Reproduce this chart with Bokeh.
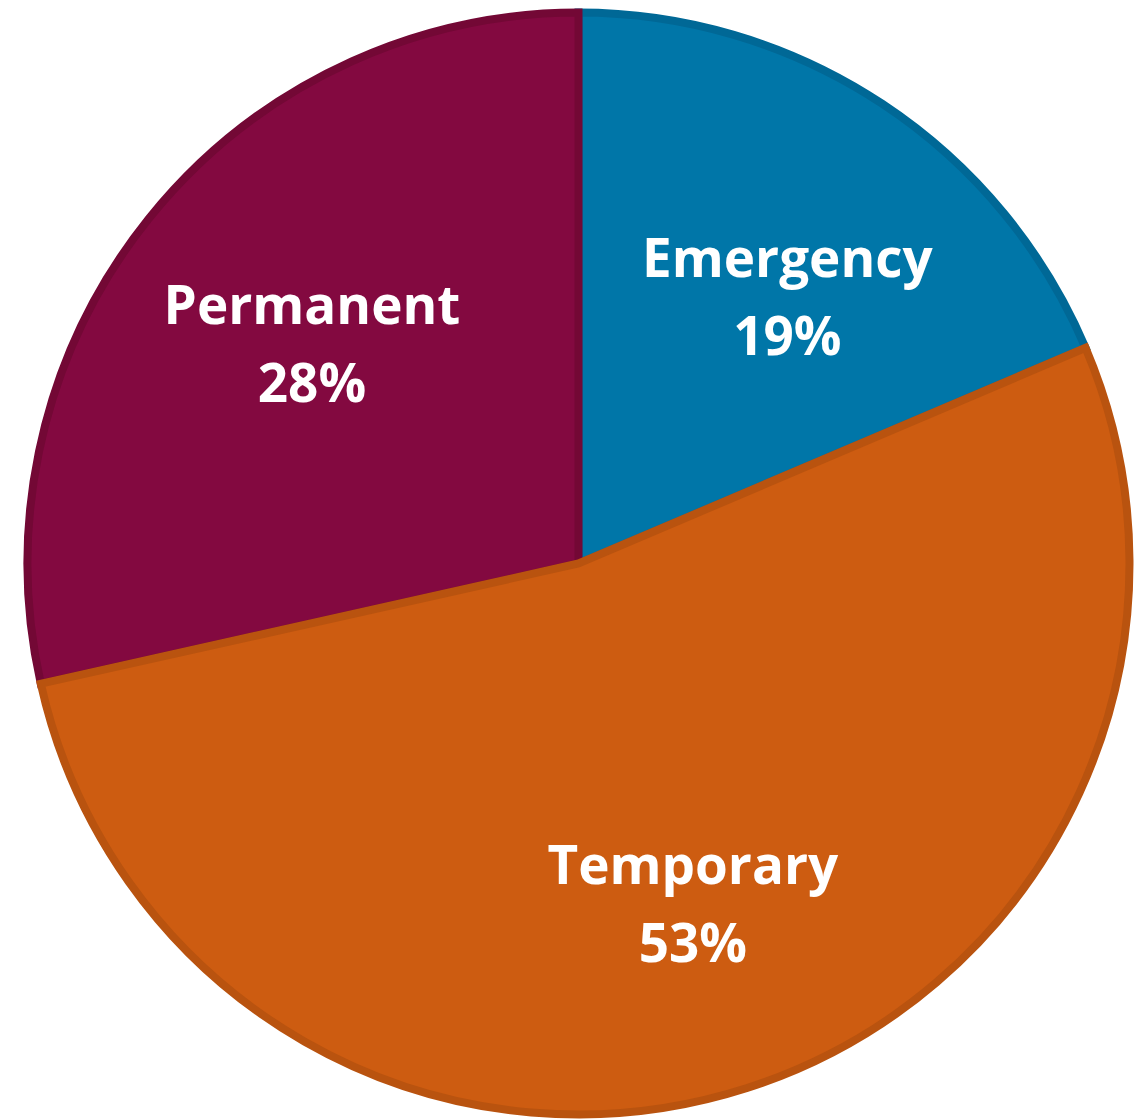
import numpy as np
from bokeh.plotting import figure
from bokeh.models import ColumnDataSource, Range1d
from bokeh.core.properties import value
from bokeh.embed import file_html
from bokeh.resources import INLINE

# Data (clockwise from 12 o'clock)
categories = ["Emergency", "Temporary", "Permanent"]
shares = [18.6, 52.9, 28.5]
pct_labels = ["19%", "53%", "28%"]
fill_colors = ["#0076A8", "#CD5C11", "#830940"]
line_colors = ["#006896", "#B9530F", "#730835"]

# layout / style (screen px)
label_nudge_x = [19, 9, 2]
label_nudge_y = [-21, -13, 4]
draw_order = [0, 2, 1]  # draw Temporary last so its border sits on top

W, H = 1140, 1120
cx, cy, R = 578, H - 563, 551

vals = np.array(shares, dtype=float)
frac = vals / vals.sum()
cum = np.concatenate([[0], np.cumsum(frac)])
start = np.pi / 2 - cum[:-1] * 2 * np.pi
end = np.pi / 2 - cum[1:] * 2 * np.pi
mid = (start + end) / 2

lab_r = 0.62 * (R + 4)
lx = cx + lab_r * np.cos(mid) + np.array(label_nudge_x)
ly = cy + lab_r * np.sin(mid) + np.array(label_nudge_y)

src = ColumnDataSource(dict(
    x=[cx] * len(draw_order),
    y=[cy] * len(draw_order),
    start=[start[i] for i in draw_order],
    end=[end[i] for i in draw_order],
    fill=[fill_colors[i] for i in draw_order],
    line=[line_colors[i] for i in draw_order],
))

lsrc = ColumnDataSource(dict(x=lx, y=ly, name=categories, pct=pct_labels))

p = figure(width=W, height=H, output_backend="svg", toolbar_location=None,
           x_range=Range1d(0, W), y_range=Range1d(0, H), min_border=0)
p.axis.visible = False
p.grid.visible = False
p.outline_line_color = None
p.background_fill_color = "white"
p.border_fill_color = "white"

p.wedge(x="x", y="y", radius=R, start_angle="start", end_angle="end",
        direction="clock", fill_color="fill", line_color="line",
        line_width=8, line_join="miter", source=src)

p.text(x="x", y="y", text="name", source=lsrc, text_color="white",
       text_font=value("Open Sans"), text_font_style="bold",
       text_font_size="53px", text_align="center", text_baseline="middle",
       y_offset=-41)
p.text(x="x", y="y", text="pct", source=lsrc, text_color="white",
       text_font=value("Open Sans"), text_font_style="bold",
       text_font_size="53px", text_align="center", text_baseline="middle",
       y_offset=37)

open("out.html", "w").write(file_html(p, INLINE))
